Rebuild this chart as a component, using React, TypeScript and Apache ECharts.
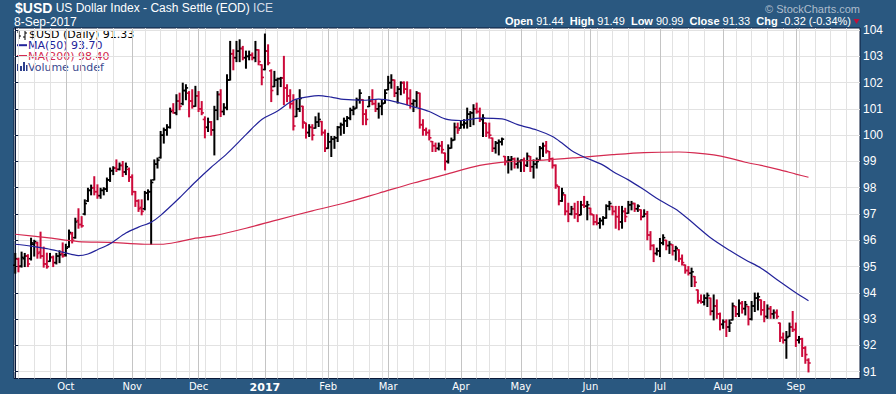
import React, { useEffect, useRef } from "react";
import * as echarts from "echarts";

// [open, high, low, close] per trading day, 9-Sep-2016 .. 8-Sep-2017
const bars: number[][] = [
  [95.05, 95.5, 94.75, 95.3], [95.28, 95.32, 94.8, 95.0], [95.02, 95.55, 94.98, 95.35], [95.3, 95.5, 95.0, 95.4],
  [95.4, 95.45, 95.0, 95.1], [95.3, 96.08, 95.25, 95.9], [95.85, 96.0, 95.4, 95.95], [95.9, 95.93, 95.32, 95.5],
  [95.55, 96.31, 95.32, 95.4], [95.4, 95.74, 94.98, 95.1], [95.1, 95.51, 94.94, 95.0], [95.2, 95.5, 95.2, 95.35],
  [95.35, 95.4, 95.0, 95.15], [95.15, 95.5, 95.1, 95.4], [95.4, 95.6, 95.15, 95.45], [95.5, 95.9, 95.36, 95.4],
  [95.45, 95.85, 95.4, 95.7], [95.75, 96.39, 95.74, 96.3], [96.25, 96.3, 95.9, 96.0], [96.1, 96.84, 96.08, 96.7],
  [96.75, 97.2, 96.46, 96.6], [96.6, 96.9, 96.5, 96.55], [97.0, 97.54, 96.97, 97.4], [97.5, 97.98, 97.48, 97.9],
  [97.9, 98.1, 97.73, 98.0], [98.0, 98.42, 97.73, 97.85], [97.85, 98.11, 97.6, 97.7], [97.7, 97.98, 97.6, 97.9],
  [97.9, 98.0, 97.73, 97.95], [97.95, 98.37, 97.86, 98.3], [98.3, 98.75, 98.24, 98.65], [98.65, 98.8, 98.5, 98.75],
  [98.75, 99.06, 98.62, 98.7], [98.7, 98.94, 98.68, 98.85], [98.85, 99.0, 98.43, 98.6], [98.6, 98.94, 98.5, 98.8],
  [98.7, 98.75, 98.24, 98.4], [98.4, 98.49, 97.73, 97.85], [97.85, 97.86, 97.29, 97.5], [97.5, 97.54, 97.1, 97.2],
  [97.25, 97.54, 96.97, 97.1], [97.2, 97.86, 97.16, 97.8], [97.8, 97.92, 97.54, 97.85], [97.85, 98.3, 95.85, 98.2],
  [98.3, 99.06, 98.3, 98.9], [98.9, 99.13, 98.75, 99.05], [99.15, 100.14, 99.13, 100.0], [100.0, 100.27, 99.7, 100.2],
  [100.2, 100.4, 100.0, 100.3], [100.3, 101.03, 100.27, 100.9], [100.95, 101.2, 100.84, 100.85], [100.85, 101.54, 100.78, 101.3],
  [101.3, 101.6, 100.97, 101.1], [101.2, 101.98, 101.16, 101.7], [101.7, 101.92, 101.35, 101.8], [101.6, 101.66, 100.7, 101.3],
  [101.3, 101.73, 101.03, 101.1], [101.1, 101.86, 101.1, 101.5], [101.5, 101.66, 100.9, 101.0], [101.0, 101.28, 100.78, 100.85],
  [100.6, 100.7, 99.9, 100.3], [100.3, 100.65, 100.14, 100.5], [100.5, 100.52, 100.0, 100.2], [100.2, 101.1, 99.25, 100.95],
  [100.95, 101.66, 100.59, 101.55], [101.55, 101.73, 100.71, 100.9], [100.9, 101.2, 100.78, 101.05], [101.05, 102.3, 100.97, 102.1],
  [102.1, 103.57, 102.1, 103.1], [103.1, 103.25, 102.49, 102.95], [102.95, 103.57, 102.8, 103.2], [103.2, 103.63, 102.8, 103.3],
  [103.3, 103.38, 102.87, 102.95], [102.95, 103.2, 102.55, 103.0], [103.0, 103.2, 102.87, 103.05], [103.05, 103.13, 102.87, 102.95],
  [102.95, 103.57, 102.8, 103.25], [103.25, 103.25, 102.68, 102.8], [102.68, 102.68, 101.92, 102.2], [102.5, 103.85, 102.49, 103.2],
  [103.2, 103.44, 102.68, 102.75], [102.45, 102.49, 101.28, 101.7], [101.85, 102.43, 101.85, 102.1], [102.1, 102.17, 101.54, 102.15],
  [102.15, 102.2, 101.85, 102.18], [102.18, 103.0, 101.16, 101.8], [101.8, 101.92, 101.28, 101.5], [101.5, 101.73, 101.03, 101.2],
  [101.2, 101.54, 100.2, 100.35], [100.71, 101.35, 100.71, 101.0], [101.0, 101.73, 100.9, 101.4], [101.1, 101.1, 100.27, 100.5],
  [100.46, 100.46, 99.89, 100.1], [100.1, 100.4, 99.95, 100.3], [100.3, 100.4, 99.82, 100.0], [100.27, 100.7, 100.27, 100.5],
  [100.5, 100.84, 100.33, 100.6], [100.52, 100.52, 100.0, 100.1], [100.1, 100.2, 99.38, 99.5], [99.5, 100.07, 99.5, 99.75],
  [99.75, 99.95, 99.19, 99.85], [99.85, 99.95, 99.5, 99.9], [99.9, 100.33, 99.76, 100.3], [100.3, 100.46, 100.0, 100.4],
  [100.4, 100.65, 100.07, 100.55], [100.55, 100.71, 100.33, 100.65], [100.65, 101.03, 100.59, 100.95], [100.95, 101.1, 100.78, 101.0],
  [101.03, 101.41, 101.03, 101.35], [101.35, 101.73, 101.22, 101.6], [101.35, 101.35, 100.4, 100.8], [100.8, 100.97, 100.4, 100.6],
  [101.09, 101.47, 101.09, 101.3], [101.3, 101.73, 101.16, 101.2], [101.2, 101.35, 100.9, 101.0], [101.0, 101.22, 100.65, 101.1],
  [101.1, 101.35, 100.78, 101.2], [101.22, 101.73, 101.22, 101.6], [101.73, 102.24, 101.73, 102.0], [102.0, 102.3, 101.79, 102.1],
  [102.1, 102.1, 101.47, 101.6], [101.6, 101.85, 101.22, 101.75], [101.75, 102.03, 101.54, 102.0], [102.0, 102.03, 101.6, 101.75],
  [101.75, 102.03, 101.16, 101.4], [101.4, 101.73, 101.03, 101.2], [101.2, 101.35, 100.9, 101.3], [101.3, 101.66, 101.09, 101.6],
  [101.6, 101.6, 100.27, 100.4], [100.4, 100.59, 100.0, 100.2], [100.2, 100.27, 100.0, 100.1], [100.1, 100.2, 99.82, 99.9],
  [99.76, 99.76, 99.38, 99.6], [99.6, 99.7, 99.38, 99.5], [99.5, 99.7, 99.44, 99.6], [99.6, 99.76, 99.32, 99.45],
  [99.32, 99.32, 98.68, 99.0], [99.0, 99.63, 98.94, 99.5], [99.51, 99.89, 99.51, 99.8], [99.82, 100.46, 99.82, 100.3],
  [100.3, 100.46, 100.07, 100.2], [100.27, 100.52, 100.27, 100.4], [100.4, 100.59, 100.27, 100.45], [100.45, 101.03, 100.27, 100.8],
  [100.8, 100.9, 100.33, 100.85], [100.85, 101.16, 100.4, 101.0], [101.0, 101.22, 100.84, 100.9], [100.9, 101.03, 100.52, 100.6],
  [100.6, 100.78, 99.95, 100.65], [100.46, 100.46, 99.95, 100.1], [100.1, 100.46, 99.89, 100.0], [99.89, 99.89, 99.38, 99.5],
  [99.5, 99.76, 99.32, 99.7], [99.7, 99.82, 99.25, 99.75], [99.75, 99.89, 99.63, 99.85], [99.19, 99.19, 98.87, 99.0],
  [99.0, 99.19, 98.56, 99.05], [99.05, 99.19, 98.68, 99.1], [99.1, 99.13, 98.75, 98.9], [98.9, 99.13, 98.75, 99.0],
  [99.0, 99.06, 98.62, 99.05], [99.05, 99.13, 98.62, 98.85], [98.85, 99.32, 98.81, 99.2], [99.19, 99.19, 98.62, 98.8],
  [98.8, 99.06, 98.37, 98.9], [98.9, 99.13, 98.75, 99.0], [99.06, 99.57, 99.06, 99.5], [99.5, 99.7, 99.19, 99.6],
  [99.6, 99.76, 99.32, 99.4], [99.38, 99.38, 99.0, 99.1], [99.1, 99.13, 98.75, 98.85], [98.85, 98.87, 97.98, 98.1],
  [98.05, 98.05, 97.35, 97.5], [97.5, 97.98, 97.48, 97.8], [97.73, 97.73, 96.97, 97.1], [97.1, 97.41, 96.71, 97.0],
  [97.0, 97.29, 96.97, 97.2], [97.2, 97.41, 96.84, 97.0], [97.0, 97.48, 96.71, 96.95], [96.97, 97.48, 96.97, 97.35],
  [97.35, 97.67, 97.25, 97.3], [97.3, 97.48, 96.78, 97.35], [97.22, 97.22, 96.97, 97.0], [96.97, 96.97, 96.59, 96.7],
  [96.7, 96.97, 96.59, 96.65], [96.65, 96.84, 96.46, 96.75], [96.75, 96.9, 96.59, 96.85], [96.85, 97.35, 96.84, 97.3],
  [97.3, 97.48, 97.16, 97.4], [97.29, 97.29, 96.97, 97.1], [97.1, 97.29, 96.46, 96.9], [96.9, 97.29, 96.4, 96.7],
  [96.7, 97.29, 96.46, 97.1], [97.1, 97.22, 96.71, 96.9], [97.03, 97.48, 97.03, 97.35], [97.35, 97.48, 97.16, 97.4],
  [97.4, 97.41, 97.1, 97.2], [97.2, 97.35, 97.1, 97.3], [97.16, 97.16, 96.78, 96.9], [96.9, 97.16, 96.9, 97.0],
  [97.0, 97.1, 96.02, 96.2], [96.2, 96.33, 95.64, 95.8], [95.8, 95.83, 95.19, 95.5], [95.5, 95.7, 95.44, 95.6],
  [95.6, 96.07, 95.38, 95.9], [95.9, 96.21, 95.83, 96.1], [96.0, 96.0, 95.64, 95.8], [95.8, 95.95, 95.5, 95.85],
  [95.83, 95.83, 95.44, 95.6], [95.6, 95.77, 95.25, 95.7], [95.64, 95.64, 95.19, 95.3], [95.3, 95.44, 95.06, 95.15],
  [95.06, 95.06, 94.75, 94.85], [94.85, 95.0, 94.68, 94.75], [94.75, 94.94, 94.24, 94.8], [94.62, 94.62, 94.24, 94.4],
  [94.11, 94.11, 93.61, 93.7], [93.7, 93.92, 93.61, 93.65], [93.65, 93.92, 93.54, 93.8], [93.8, 93.99, 93.48, 93.9],
  [93.8, 93.8, 93.16, 93.3], [93.3, 93.92, 92.97, 93.5], [93.5, 93.73, 93.03, 93.2], [93.2, 93.23, 92.59, 92.8],
  [92.8, 92.97, 92.65, 92.9], [92.9, 92.97, 92.34, 92.7], [92.7, 92.97, 92.53, 92.85], [92.97, 93.61, 92.97, 93.5],
  [93.48, 93.48, 93.1, 93.2], [93.2, 93.73, 93.1, 93.6], [93.6, 93.67, 93.23, 93.4], [93.4, 93.67, 93.16, 93.55],
  [93.48, 93.48, 92.78, 93.0], [93.0, 93.67, 92.97, 93.5], [93.5, 93.99, 93.29, 93.8], [93.8, 93.99, 93.35, 93.85],
  [93.73, 93.73, 93.16, 93.35], [93.35, 93.67, 92.9, 93.1], [93.1, 93.54, 93.03, 93.4], [93.4, 93.48, 93.03, 93.2],
  [93.2, 93.35, 93.03, 93.25], [93.25, 93.35, 93.03, 93.1], [92.85, 92.85, 92.15, 92.3], [92.3, 92.47, 92.09, 92.2],
  [92.2, 92.53, 91.51, 92.3], [92.34, 92.85, 92.34, 92.7], [92.7, 93.29, 92.53, 92.6], [92.6, 92.85, 91.96, 92.2],
  [92.2, 92.34, 92.09, 92.25], [92.25, 92.27, 91.58, 91.9], [91.9, 91.95, 91.32, 91.65], [91.44, 91.49, 90.99, 91.33],
];

// moving averages: [trading-day index, value]
const ma50: number[][] = [
  [0, 95.85], [5, 95.78], [10, 95.68], [15, 95.55], [20, 95.42], [23, 95.48], [26, 95.64], [30, 95.87],
  [35, 96.28], [39, 96.5], [43, 96.69], [46, 96.95], [52, 97.62], [57, 98.22], [62, 98.78], [67, 99.3],
  [73, 100.02], [78, 100.6], [83, 100.92], [88, 101.33], [93, 101.47], [96, 101.51], [100, 101.45], [104, 101.36],
  [110, 101.33], [115, 101.37], [120, 101.28], [126, 101.08], [131, 100.9], [136, 100.62], [141, 100.56], [147, 100.65],
  [154, 100.62], [159, 100.4], [165, 100.2], [170, 99.95], [173, 99.7], [176, 99.42], [180, 99.17], [186, 98.86],
  [190, 98.55], [194, 98.3], [199, 97.92], [204, 97.52], [210, 97.1], [215, 96.6], [220, 96.1], [226, 95.62],
  [231, 95.26], [236, 94.94], [242, 94.42], [247, 94.0], [251, 93.7],
];
const ma200: number[][] = [
  [0, 96.23], [10, 96.1], [20, 95.95], [30, 95.92], [41, 95.85], [46, 95.85], [52, 95.95], [57, 96.08],
  [63, 96.18], [73, 96.46], [83, 96.78], [94, 97.12], [104, 97.41], [115, 97.79], [126, 98.18], [136, 98.5],
  [147, 98.85], [157, 99.0], [168, 99.06], [178, 99.15], [189, 99.26], [199, 99.34], [210, 99.36], [215, 99.33],
  [221, 99.25], [226, 99.13], [231, 98.97], [236, 98.85], [242, 98.68], [247, 98.52], [251, 98.4],
];

const monthStarts = [16, 37, 58, 79, 99, 118, 141, 160, 182, 204, 224, 247];
const monthLabels = ["Oct", "Nov", "Dec", "2017", "Feb", "Mar", "Apr", "May", "Jun", "Jul", "Aug", "Sep"];
const weekStarts = [1, 6, 11, 21, 26, 31, 41, 46, 51, 55, 60, 65, 70, 75, 83, 88, 92, 97, 102, 107, 112, 116,
  121, 126, 131, 136, 146, 150, 155, 165, 170, 175, 180, 184, 189, 194, 199, 208, 213, 218, 228, 233, 238, 243,
  248, 253, 258, 263];
const yTicks = [91, 92, 93, 94, 95, 96, 97, 98, 99, 100, 101, 102, 103, 104];
const legendRows = ["$USD (Daily) 91.33", "MA(50) 93.70", "MA(200) 98.40", "Volume undef"];

const FRAME = "#2a5880";
const RED = "#cc0a3a";
const NAVY = "#23239a";
const MA200C = "#d42a50";
const VOL = "#3a4a8e";

export default function App() {
  const ref = useRef<HTMLDivElement>(null);
  useEffect(() => {
    if (!ref.current) return;
    const chart = echarts.init(ref.current, undefined, { renderer: "svg" });
    const ohlc = bars.map((b, i) => [i, b[0], b[1], b[2], b[3], i === 0 || b[3] >= bars[i - 1][3] ? 1 : 0]);
    const labelMap: Record<number, string> = {};
    monthStarts.forEach((m, k) => (labelMap[m] = monthLabels[k]));
    const xCommon = { type: "value", min: -0.4, max: 267.3, axisLine: { show: false } };
    const sans = "Liberation Sans";
    const dv = "DejaVu Sans";
    const legendColors = ["#000000", NAVY, MA200C, VOL];
    const legendX = [29, 28, 28, 28];
    const legendY = [34.3, 45.1, 56, 66.8];
    const legendTexts = legendRows.map((t, k) => ({
      type: "text", x: legendX[k], y: legendY[k], scaleX: 1.1,
      style: { text: t, fill: legendColors[k], fontFamily: dv, fontSize: 10, verticalAlign: "middle", textVerticalAlign: "middle" },
    }));
    chart.setOption({
      animation: false,
      backgroundColor: FRAME,
      grid: { left: 14, right: 36, top: 28, bottom: 15.5, show: true, backgroundColor: "#ffffff", borderColor: "#0b1a3a", borderWidth: 1 },
      xAxis: [
        {
          ...xCommon,
          axisTick: { show: false, customValues: monthStarts },
          splitLine: { show: true, lineStyle: { color: "#c4c4c4", width: 1 } },
          axisLabel: {
            customValues: monthStarts,
            margin: 3,
            color: "#ffffff",
            fontFamily: dv,
            fontSize: 10,
            formatter: (v: number) => {
              const s = labelMap[Math.round(v)] || "";
              return s === "2017" ? "{b|2017}" : s;
            },
            rich: { b: { fontWeight: "bold", fontSize: 11, fontFamily: dv, color: "#ffffff" } },
          },
        },
        {
          ...xCommon,
          position: "bottom",
          axisTick: { show: false, customValues: weekStarts },
          splitLine: { show: true, lineStyle: { color: "#e2e2e2", width: 1 } },
          axisLabel: { show: false },
        },
      ],
      yAxis: {
        type: "value",
        position: "right",
        min: 90.74,
        max: 104.08,
        axisLine: { show: true, lineStyle: { color: "#0b1a3a" } },
        axisTick: { show: true, customValues: yTicks, length: 3, lineStyle: { color: "#0b1a3a" } },
        splitLine: { show: true, lineStyle: { color: "#e2e2e2" } },
        axisLabel: { customValues: yTicks, color: "#ffffff", fontFamily: sans, fontSize: 12, margin: 3 },
      },
      series: [
        {
          type: "line",
          data: ma200,
          smooth: 0.3,
          showSymbol: false,
          lineStyle: { color: MA200C, width: 1.2 },
          silent: true,
        },
        {
          type: "line",
          data: ma50,
          smooth: 0.3,
          showSymbol: false,
          lineStyle: { color: NAVY, width: 1.2 },
          silent: true,
        },
        {
          type: "custom",
          data: ohlc,
          encode: { x: 0, y: [1, 2, 3, 4] },
          renderItem: (_p: any, api: any) => {
            const i = api.value(0);
            const pO = api.coord([i, api.value(1)]);
            const pH = api.coord([i, api.value(2)]);
            const pL = api.coord([i, api.value(3)]);
            const pC = api.coord([i, api.value(4)]);
            const color = api.value(5) ? "#000000" : RED;
            const st = { stroke: color, lineWidth: 2 };
            return {
              type: "group",
              children: [
                { type: "line", shape: { x1: pH[0], y1: pH[1] - 0.5, x2: pL[0], y2: pL[1] + 0.5 }, style: st },
                { type: "line", shape: { x1: pO[0] - 2.2, y1: pO[1], x2: pO[0], y2: pO[1] }, style: { stroke: color, lineWidth: 1.6 } },
                { type: "line", shape: { x1: pC[0], y1: pC[1], x2: pC[0] + 2.2, y2: pC[1] }, style: { stroke: color, lineWidth: 1.6 } },
              ],
            };
          },
        },
      ],
      graphic: [
        {
          type: "text", x: 15, y: 8,
          style: {
            text: "{b|$USD} US Dollar Index - Cash Settle (EOD) {g|ICE}",
            fill: "#ffffff", fontFamily: sans, fontSize: 12, verticalAlign: "middle", textVerticalAlign: "middle",
            rich: {
              b: { fontWeight: "bold", fontSize: 14, fontFamily: sans, fill: "#ffffff", color: "#ffffff" },
              g: { fontSize: 12, fontFamily: sans, fill: "#d2dbe6", color: "#d2dbe6" },
            },
          },
        },
        { type: "text", x: 14, y: 22, style: { text: "8-Sep-2017", fill: "#ffffff", fontFamily: sans, fontSize: 12, verticalAlign: "middle", textVerticalAlign: "middle" } },
        { type: "text", x: 860, y: 8.5, style: { text: "© StockCharts.com", fill: "#aebdcc", fontFamily: sans, fontSize: 11, align: "right", textAlign: "right", verticalAlign: "middle", textVerticalAlign: "middle" } },
        {
          type: "text", x: 851, y: 21,
          style: {
            text: "{b|Open} 91.44  {b|High} 91.49  {b|Low} 90.99  {b|Close} 91.33  {b|Chg} -0.32 (-0.34%)",
            fill: "#ffffff", fontFamily: sans, fontSize: 11, align: "right", textAlign: "right", verticalAlign: "middle", textVerticalAlign: "middle",
            rich: { b: { fontWeight: "bold", fontSize: 11, fontFamily: sans, fill: "#ffffff", color: "#ffffff" } },
          },
        },
        { type: "polygon", shape: { points: [[853.5, 19], [859.5, 19], [856.5, 24]] }, style: { fill: "#c0103a" } },
        // legend icons
        { type: "line", shape: { x1: 19, y1: 30, x2: 19, y2: 39 }, style: { stroke: "#000", lineWidth: 1 } },
        { type: "line", shape: { x1: 17, y1: 32, x2: 19, y2: 32 }, style: { stroke: "#000", lineWidth: 1 } },
        { type: "line", shape: { x1: 19, y1: 36, x2: 21, y2: 36 }, style: { stroke: "#000", lineWidth: 1 } },
        { type: "line", shape: { x1: 25, y1: 31, x2: 25, y2: 40 }, style: { stroke: "#000", lineWidth: 1 } },
        { type: "line", shape: { x1: 23, y1: 37, x2: 25, y2: 37 }, style: { stroke: "#000", lineWidth: 1 } },
        { type: "line", shape: { x1: 25, y1: 33, x2: 27, y2: 33 }, style: { stroke: "#000", lineWidth: 1 } },
        { type: "rect", shape: { x: 17, y: 44.2, width: 10, height: 2 }, style: { fill: NAVY } },
        { type: "rect", shape: { x: 17, y: 55, width: 10, height: 2 }, style: { fill: MA200C } },
        { type: "rect", shape: { x: 17, y: 64, width: 2, height: 7 }, style: { fill: "#2d3f8c" } },
        { type: "rect", shape: { x: 20, y: 66, width: 2, height: 5 }, style: { fill: "#2d3f8c" } },
        { type: "rect", shape: { x: 23, y: 62, width: 2, height: 9 }, style: { fill: "#2d3f8c" } },
        { type: "rect", shape: { x: 26, y: 65, width: 1.5, height: 6 }, style: { fill: "#2d3f8c" } },
        ...legendTexts,
      ],
    });
    return () => chart.dispose();
  }, []);
  return <div ref={ref} style={{ position: "fixed", left: 0, top: 0, width: 896, height: 394 }} />;
}
